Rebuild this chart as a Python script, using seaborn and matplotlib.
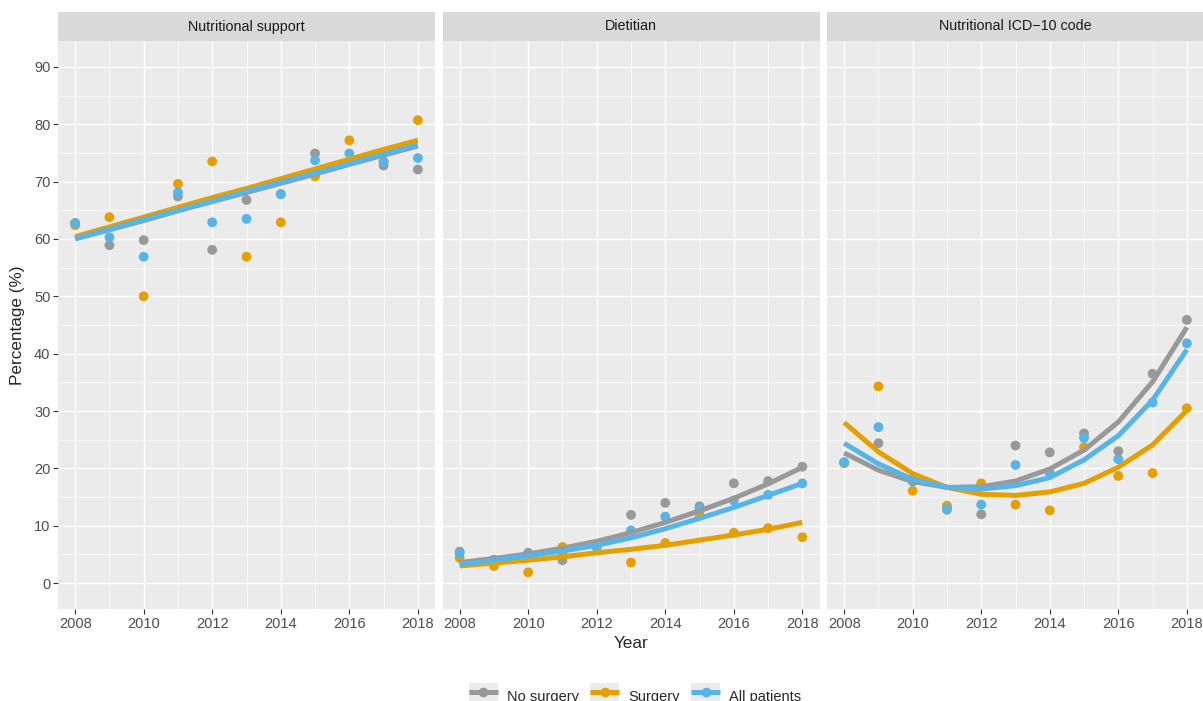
import numpy as np
import pandas as pd
import matplotlib
matplotlib.use('Agg')
import matplotlib.pyplot as plt
from matplotlib.patches import Patch, Rectangle
from matplotlib.lines import Line2D
import seaborn as sns

# ---------------------------------- DATA ----------------------------------#
years = [2008, 2009, 2010, 2011, 2012, 2013, 2014, 2015, 2016, 2017, 2018]
groups = ['No surgery', 'Surgery', 'All patients']
panels = ['Nutritional support', 'Dietitian', 'Nutritional ICD\u221210 code']
colors = ['#999999', '#E69F00', '#56B4E9']

# observed percentages
support_none = [62.8, 58.9, 59.8, 67.4, 58.1, 66.8, 67.8, 74.9, 73.5, 72.8, 72.1]
support_surg = [62.4, 63.8, 50.0, 69.6, 73.5, 56.9, 62.9, 70.9, 77.2, 73.5, 80.7]
support_all = [62.7, 60.3, 56.9, 68.1, 62.9, 63.5, 67.8, 73.7, 74.9, 73.4, 74.1]

diet_none = [5.5, 4.1, 5.3, 4.0, 6.4, 11.9, 14.0, 13.4, 17.4, 17.8, 20.3]
diet_surg = [4.4, 3.0, 1.9, 6.3, 6.2, 3.6, 7.0, 11.9, 8.8, 9.6, 8.0]
diet_all = [5.2, 4.0, 4.9, 5.2, 6.3, 9.2, 11.6, 13.0, 14.4, 15.4, 17.4]

icd_none = [21.0, 24.4, 18.2, 12.8, 12.0, 24.0, 22.8, 26.1, 23.0, 36.5, 45.9]
icd_surg = [20.9, 34.3, 16.1, 13.5, 17.4, 13.7, 12.7, 23.7, 18.7, 19.2, 30.5]
icd_all = [21.1, 27.2, 17.7, 13.0, 13.7, 20.6, 19.2, 25.3, 21.6, 31.5, 41.8]

# fitted trend values
support_none_fit = [60.0, 61.6, 63.2, 64.9, 66.5, 68.1, 69.7, 71.3, 73.0, 74.6, 76.2]
support_surg_fit = [60.4, 62.1, 63.8, 65.5, 67.2, 68.8, 70.5, 72.2, 73.9, 75.6, 77.2]
support_all_fit = [60.1, 61.7, 63.4, 65.0, 66.6, 68.3, 69.9, 71.5, 73.1, 74.8, 76.4]

diet_none_fit = [3.6, 4.3, 5.1, 6.1, 7.3, 8.8, 10.6, 12.6, 14.8, 17.3, 20.2]
diet_surg_fit = [3.0, 3.5, 4.0, 4.6, 5.3, 5.9, 6.6, 7.5, 8.4, 9.4, 10.6]
diet_all_fit = [3.3, 4.0, 4.8, 5.6, 6.6, 7.9, 9.5, 11.3, 13.2, 15.3, 17.4]

icd_none_fit = [22.7, 19.7, 17.7, 16.7, 16.8, 17.8, 19.9, 23.2, 28.1, 35.1, 44.6]
icd_surg_fit = [28.0, 22.9, 19.1, 16.7, 15.5, 15.3, 15.9, 17.4, 20.2, 24.1, 30.1]
icd_all_fit = [24.4, 20.8, 18.1, 16.7, 16.4, 17.0, 18.4, 21.5, 25.7, 31.9, 40.7]

obs = [[support_none, support_surg, support_all],
       [diet_none, diet_surg, diet_all],
       [icd_none, icd_surg, icd_all]]
fits = [[support_none_fit, support_surg_fit, support_all_fit],
        [diet_none_fit, diet_surg_fit, diet_all_fit],
        [icd_none_fit, icd_surg_fit, icd_all_fit]]

rows = []
for p, panel in enumerate(panels):
    for g, grp in enumerate(groups):
        for i, yr in enumerate(years):
            rows.append({'panel': panel, 'group': grp, 'Year': yr,
                         'pct': obs[p][g][i], 'fit': fits[p][g][i]})
df = pd.DataFrame(rows)

# ---------------------------------- PLOT ----------------------------------#
sns.set_theme(style='darkgrid', rc={'axes.facecolor': '#EBEBEB',
                                    'grid.color': 'white'})
plt.rcParams['font.family'] = ['Liberation Sans', 'DejaVu Sans']

W, H = 1203, 701
fig = plt.figure(figsize=(W / 100, H / 100), dpi=100)
pal = dict(zip(groups, colors))

lefts = [58, 442.5, 827]
pw = 377
top, bot = 41, 609
strip_h = 29
axs = []
for p, panel in enumerate(panels):
    ax = fig.add_axes([lefts[p] / W, 1 - bot / H, pw / W, (bot - top) / H])
    axs.append(ax)
    sub = df[df['panel'] == panel]
    sns.scatterplot(data=sub, x='Year', y='pct', hue='group', hue_order=groups,
                    palette=pal, s=50, edgecolor='none', linewidth=0,
                    legend=False, ax=ax, zorder=2)
    sns.lineplot(data=sub, x='Year', y='fit', hue='group', hue_order=groups,
                 palette=pal, linewidth=3.6, legend=False, ax=ax, zorder=3,
                 solid_capstyle='butt')

    ax.set_xlim(2007.5, 2018.5)
    ax.set_ylim(-4.5, 94.5)
    ax.set_xticks(range(2008, 2019, 2))
    ax.set_xticks(range(2009, 2019, 2), minor=True)
    ax.set_yticks(range(0, 91, 10))
    ax.set_yticks(range(5, 95, 10), minor=True)
    ax.grid(which='major', color='white', linewidth=1.0)
    ax.grid(which='minor', color='white', linewidth=0.5)
    ax.set_xlabel('')
    ax.set_ylabel('')
    for s in ax.spines.values():
        s.set_visible(False)
    ax.tick_params(which='major', length=3.5, width=0.8, color='#333333',
                   labelsize=10.5, labelcolor='#4D4D4D', pad=2,
                   bottom=True, left=(p == 0))
    ax.tick_params(which='minor', length=0)
    if p > 0:
        ax.set_yticklabels([])

    # facet strip
    ax.add_patch(Rectangle((0, 1), 1, strip_h / (bot - top), transform=ax.transAxes,
                           facecolor='#D9D9D9', edgecolor='none', clip_on=False))
    ax.text(0.5, 1 + strip_h / 2 / (bot - top), panel, transform=ax.transAxes,
            ha='center', va='center', fontsize=10.3, color='#1A1A1A')

fig.text(631 / W, 1 - 643 / H, 'Year', ha='center', va='center', fontsize=12.3)
fig.text(18 / W, 1 - 325 / H, 'Percentage (%)', ha='center', va='center',
         rotation=90, fontsize=12.3)

handles = [(Patch(facecolor='#EBEBEB', edgecolor='none'),
            Line2D([0], [0], color=c, linewidth=3.6, marker='o', markersize=7,
                   markeredgewidth=0, solid_capstyle='butt'))
           for c in colors]
fig.legend(handles, groups, loc='center', bbox_to_anchor=(635 / W, 1 - 697 / H),
           ncol=3, frameon=False, fontsize=10.5, handlelength=2.0,
           handleheight=2.6, handletextpad=0.6, columnspacing=0.8,
           borderpad=0, borderaxespad=0)

plt.savefig('out.png', dpi=100)
